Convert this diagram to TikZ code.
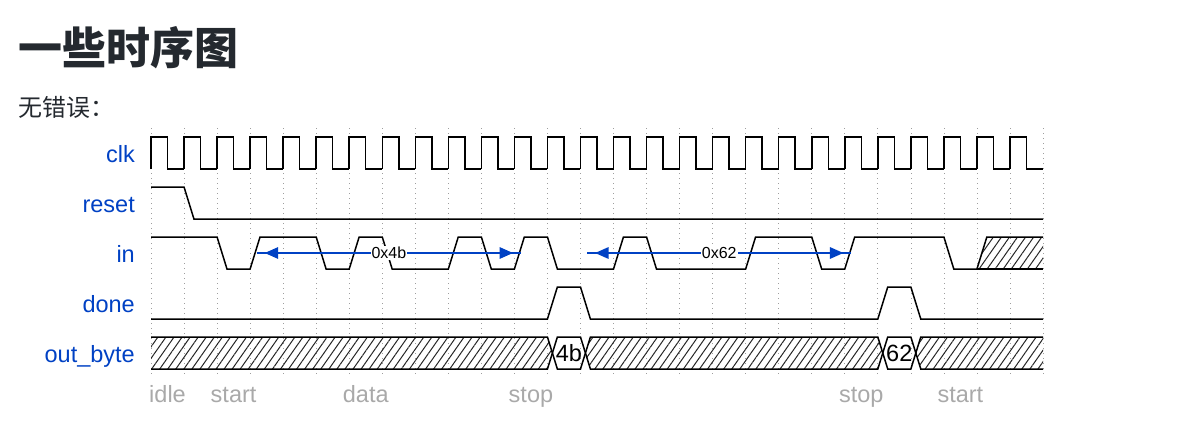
\documentclass[tikz,border=0pt]{standalone}
\usepackage{fontspec}
\setmainfont{Liberation Sans}
\newfontfamily\cjk{Noto Sans CJK SC}
\usetikzlibrary{arrows.meta,patterns.meta}
\definecolor{wblue}{HTML}{0041C4}
\definecolor{phasegray}{HTML}{A9A9A9}
\definecolor{heading}{HTML}{24292F}

\begin{document}
\begin{tikzpicture}[x=1pt, y=-1pt,
  wave/.style={line width=1.5pt, black},
  gridline/.style={black!38, line width=0.7pt, dash pattern=on 1.4pt off 3.6pt},
  hatched/.style={pattern={Lines[angle=55, distance=6.6pt, line width=1pt]}, pattern color=black!85},
  siglabel/.style={anchor=base east, inner sep=0pt, text=wblue, font=\fontsize{23.5}{28}\selectfont},
  phase/.style={anchor=base, inner sep=0pt, text=phasegray, font=\fontsize{23.5}{28}\selectfont},
  busval/.style={inner sep=0pt, font=\fontsize{23.5}{28}\selectfont},
  edgeline/.style={wblue, line width=1.6pt},
  edgetips/.style={edgeline, {Triangle[length=13.5pt, width=11.5pt]}-{Triangle[length=13.5pt, width=11.5pt]}, shorten <=8pt, shorten >=8pt},
  edgelabel/.style={fill=white, text=black, inner sep=1pt, font=\fontsize{16}{18}\selectfont}]
  \useasboundingbox (0,0) rectangle (1177,436);

  \node[anchor=base west, inner sep=0pt, text=heading, font=\cjk\bfseries\fontsize{44}{50}\selectfont] (title) at (18,65) {一些时序图};
  \node[anchor=base west, inner sep=0pt, text=heading, font=\cjk\fontsize{24}{28}\selectfont] (subtitle) at (18,116) {无错误：};

  \node[siglabel] (lclk) at (135,162) {clk};
  \node[siglabel] (lreset) at (135,212) {reset};
  \node[siglabel] (lin) at (135,262) {in};
  \node[siglabel] (ldone) at (135,312) {done};
  \node[siglabel] (lout) at (135,362) {out\_byte};

  % one unit = one clock period
  \begin{scope}[xshift=151pt, x=33.037pt]
    \foreach \k in {0,...,27}
      \draw[gridline] (\k,128) -- (\k,377);

    % clk
    \foreach \k in {0,...,26}
      \draw[wave] (\k,169) -- (\k,137) -- (\k+0.5,137) -- (\k+0.5,169) -- (\k+1,169);

    % reset
    \draw[wave] (0,187) -- (1,187) -- (1.3,219) -- (27,219);

    % in
    \fill[hatched] (25,269) -- (25.3,237) -- (27,237) -- (27,269) -- cycle;
    \draw[wave] (0,237) -- (2,237) -- (2.3,269) -- (3,269) -- (3.3,237) -- (5,237) -- (5.3,269)
      -- (6,269) -- (6.3,237) -- (7,237) -- (7.3,269) -- (9,269) -- (9.3,237) -- (10,237)
      -- (10.3,269) -- (11,269) -- (11.3,237) -- (12,237) -- (12.3,269) -- (14,269) -- (14.3,237)
      -- (15,237) -- (15.3,269) -- (18,269) -- (18.3,237) -- (20,237) -- (20.3,269) -- (21,269)
      -- (21.3,237) -- (24,237) -- (24.3,269) -- (25,269) -- (25.3,237) -- (27,237);
    \draw[wave] (25,269) -- (27,269);

    % done
    \draw[wave] (0,319) -- (12,319) -- (12.3,287) -- (13,287) -- (13.3,319) -- (22,319)
      -- (22.3,287) -- (23,287) -- (23.3,319) -- (27,319);

    % out_byte
    \fill[hatched] (0,337) -- (12,337) -- (12.15,353) -- (12,369) -- (0,369) -- cycle;
    \fill[hatched] (13.15,353) -- (13.3,337) -- (22,337) -- (22.15,353) -- (22,369) -- (13.3,369) -- cycle;
    \fill[hatched] (23.15,353) -- (23.3,337) -- (27,337) -- (27,369) -- (23.3,369) -- cycle;
    \draw[wave] (0,337) -- (12,337) -- (12.3,369) -- (13,369) -- (13.3,337) -- (22,337)
      -- (22.3,369) -- (23,369) -- (23.3,337) -- (27,337);
    \draw[wave] (0,369) -- (12,369) -- (12.3,337) -- (13,337) -- (13.3,369) -- (22,369)
      -- (22.3,337) -- (23,337) -- (23.3,369) -- (27,369);
    \node[busval] (v4b) at (12.65,353) {4b};
    \node[busval] (v62) at (22.65,353) {62};

    % byte spans
    \coordinate (a1) at (3.2,253);
    \coordinate (b1) at (11.2,253);
    \coordinate (a2) at (13.2,253);
    \coordinate (b2) at (21.2,253);
    \draw[edgetips] (a1) -- (b1);
    \draw[edgeline] (a1) -- node[edgelabel] (s1) {0x4b} (b1);
    \draw[edgetips] (a2) -- (b2);
    \draw[edgeline] (a2) -- node[edgelabel] (s2) {0x62} (b2);

    \node[phase] (p1) at (0.5,402) {idle};
    \node[phase] (p2) at (2.5,402) {start};
    \node[phase] (p3) at (6.5,402) {data};
    \node[phase] (p4) at (11.5,402) {stop};
    \node[phase] (p5) at (21.5,402) {stop};
    \node[phase] (p6) at (24.5,402) {start};
  \end{scope}
\end{tikzpicture}
\end{document}
